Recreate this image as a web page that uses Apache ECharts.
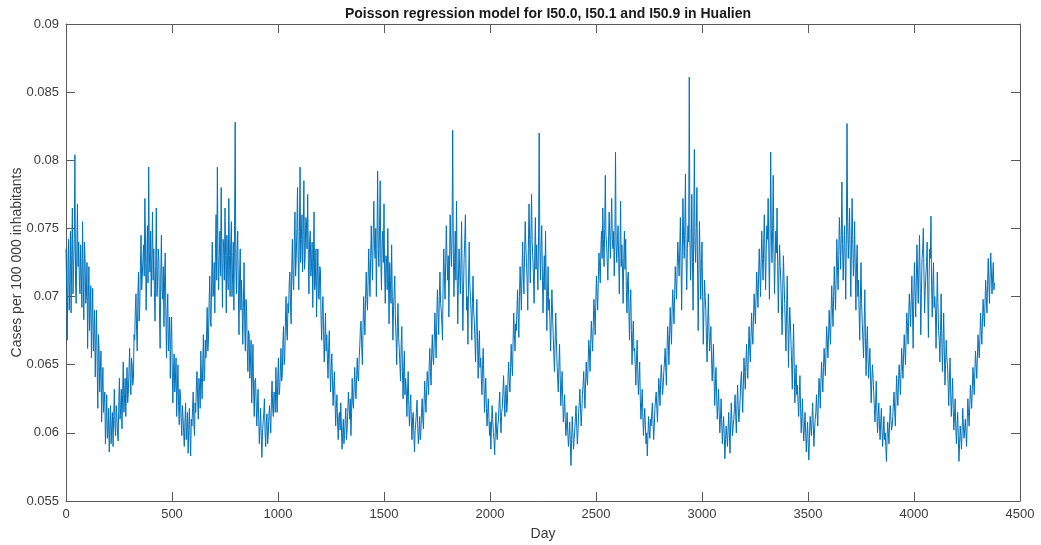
<!DOCTYPE html>
<html>
<head>
<meta charset="utf-8">
<title>Poisson regression model for I50.0, I50.1 and I50.9 in Hualien</title>
<script src="https://cdn.jsdelivr.net/npm/echarts@6/dist/echarts.min.js"></script>
<style>
  html, body { margin: 0; padding: 0; background: #fff; overflow: hidden; }
  #chart { width: 1041px; height: 545px; }
</style>
</head>
<body>
<div id="chart"></div>
<script>
// Modelled daily rate, sampled every DAY_STEP days starting at day 0 (one row = 60 days)
const DAY_STEP = 3;
const rate = [
  0.0735, 0.0705, 0.0668, 0.0725, 0.0742, 0.0690, 0.0712, 0.0748, 0.0688, 0.0730, 0.0765, 0.0702, 0.0722, 0.0742, 0.0804, 0.0710, 0.0695, 0.0735, 0.0768, 0.0722,
  0.0740, 0.0712, 0.0702, 0.0738, 0.0718, 0.0692, 0.0755, 0.0715, 0.0683, 0.0740, 0.0728, 0.0695, 0.0700, 0.0725, 0.0662, 0.0698, 0.0722, 0.0675, 0.0690, 0.0708,
  0.0655, 0.0685, 0.0706, 0.0660, 0.0672, 0.0690, 0.0641, 0.0668, 0.0690, 0.0650, 0.0618, 0.0672, 0.0662, 0.0630, 0.0645, 0.0660, 0.0608, 0.0632, 0.0648, 0.0615,
  0.0615, 0.0630, 0.0592, 0.0608, 0.0628, 0.0596, 0.0600, 0.0618, 0.0586, 0.0605, 0.0620, 0.0592, 0.0605, 0.0615, 0.0590, 0.0612, 0.0632, 0.0605, 0.0598, 0.0620,
  0.0612, 0.0600, 0.0594, 0.0622, 0.0640, 0.0610, 0.0618, 0.0632, 0.0603, 0.0628, 0.0652, 0.0615, 0.0625, 0.0640, 0.0612, 0.0635, 0.0648, 0.0622, 0.0630, 0.0645,
  0.0662, 0.0640, 0.0628, 0.0655, 0.0650, 0.0635, 0.0640, 0.0672, 0.0668, 0.0690, 0.0702, 0.0675, 0.0660, 0.0700, 0.0718, 0.0682, 0.0692, 0.0722, 0.0745, 0.0705,
  0.0705, 0.0728, 0.0738, 0.0715, 0.0772, 0.0740, 0.0690, 0.0725, 0.0752, 0.0710, 0.0795, 0.0732, 0.0718, 0.0748, 0.0700, 0.0730, 0.0762, 0.0712, 0.0735, 0.0705,
  0.0682, 0.0722, 0.0765, 0.0700, 0.0710, 0.0735, 0.0728, 0.0688, 0.0662, 0.0715, 0.0745, 0.0705, 0.0698, 0.0722, 0.0678, 0.0712, 0.0732, 0.0690, 0.0655, 0.0688,
  0.0702, 0.0660, 0.0668, 0.0685, 0.0640, 0.0670, 0.0685, 0.0650, 0.0622, 0.0645, 0.0658, 0.0630, 0.0638, 0.0655, 0.0612, 0.0632, 0.0650, 0.0620, 0.0606, 0.0632,
  0.0628, 0.0610, 0.0598, 0.0620, 0.0612, 0.0600, 0.0590, 0.0608, 0.0622, 0.0595, 0.0604, 0.0615, 0.0585, 0.0602, 0.0618, 0.0598, 0.0583, 0.0610, 0.0605, 0.0618,
  0.0630, 0.0608, 0.0598, 0.0622, 0.0615, 0.0635, 0.0645, 0.0625, 0.0610, 0.0640, 0.0632, 0.0618, 0.0660, 0.0640, 0.0625, 0.0650, 0.0672, 0.0638, 0.0642, 0.0668,
  0.0655, 0.0672, 0.0692, 0.0660, 0.0668, 0.0695, 0.0715, 0.0682, 0.0678, 0.0712, 0.0740, 0.0700, 0.0702, 0.0725, 0.0688, 0.0735, 0.0760, 0.0712, 0.0795, 0.0730,
  0.0705, 0.0730, 0.0748, 0.0715, 0.0780, 0.0728, 0.0692, 0.0742, 0.0735, 0.0712, 0.0765, 0.0730, 0.0688, 0.0745, 0.0722, 0.0705, 0.0772, 0.0730, 0.0700, 0.0738,
  0.0755, 0.0700, 0.0718, 0.0740, 0.0690, 0.0752, 0.0828, 0.0722, 0.0702, 0.0735, 0.0748, 0.0702, 0.0672, 0.0718, 0.0735, 0.0690, 0.0712, 0.0692, 0.0665, 0.0698,
  0.0725, 0.0680, 0.0660, 0.0698, 0.0690, 0.0662, 0.0645, 0.0675, 0.0672, 0.0640, 0.0652, 0.0668, 0.0622, 0.0645, 0.0665, 0.0630, 0.0612, 0.0638, 0.0640, 0.0622,
  0.0605, 0.0620, 0.0632, 0.0610, 0.0592, 0.0605, 0.0618, 0.0598, 0.0582, 0.0600, 0.0608, 0.0615, 0.0625, 0.0600, 0.0590, 0.0608, 0.0614, 0.0592, 0.0598, 0.0612,
  0.0620, 0.0608, 0.0600, 0.0625, 0.0638, 0.0618, 0.0612, 0.0630, 0.0628, 0.0615, 0.0648, 0.0628, 0.0615, 0.0640, 0.0655, 0.0628, 0.0632, 0.0645, 0.0662, 0.0638,
  0.0642, 0.0665, 0.0678, 0.0650, 0.0655, 0.0682, 0.0700, 0.0675, 0.0668, 0.0695, 0.0688, 0.0710, 0.0718, 0.0692, 0.0680, 0.0722, 0.0742, 0.0712, 0.0705, 0.0740,
  0.0762, 0.0715, 0.0728, 0.0750, 0.0780, 0.0732, 0.0705, 0.0748, 0.0795, 0.0725, 0.0742, 0.0760, 0.0718, 0.0745, 0.0785, 0.0720, 0.0728, 0.0758, 0.0755, 0.0735,
  0.0775, 0.0728, 0.0702, 0.0740, 0.0748, 0.0715, 0.0722, 0.0740, 0.0692, 0.0725, 0.0762, 0.0705, 0.0710, 0.0735, 0.0685, 0.0715, 0.0735, 0.0700, 0.0698, 0.0722,
  0.0720, 0.0685, 0.0668, 0.0690, 0.0700, 0.0675, 0.0652, 0.0670, 0.0688, 0.0660, 0.0672, 0.0655, 0.0640, 0.0662, 0.0675, 0.0650, 0.0630, 0.0648, 0.0658, 0.0638,
  0.0620, 0.0635, 0.0645, 0.0625, 0.0605, 0.0618, 0.0628, 0.0608, 0.0595, 0.0612, 0.0615, 0.0602, 0.0622, 0.0605, 0.0588, 0.0600, 0.0610, 0.0592, 0.0598, 0.0610,
  0.0618, 0.0595, 0.0602, 0.0615, 0.0630, 0.0620, 0.0610, 0.0625, 0.0598, 0.0615, 0.0640, 0.0622, 0.0618, 0.0635, 0.0648, 0.0630, 0.0625, 0.0642, 0.0655, 0.0640,
  0.0638, 0.0655, 0.0665, 0.0678, 0.0682, 0.0662, 0.0650, 0.0675, 0.0700, 0.0685, 0.0672, 0.0698, 0.0718, 0.0700, 0.0690, 0.0712, 0.0735, 0.0715, 0.0700, 0.0728,
  0.0752, 0.0730, 0.0712, 0.0745, 0.0770, 0.0738, 0.0728, 0.0750, 0.0700, 0.0742, 0.0792, 0.0735, 0.0722, 0.0752, 0.0785, 0.0728, 0.0705, 0.0740, 0.0748, 0.0725,
  0.0768, 0.0718, 0.0695, 0.0730, 0.0728, 0.0705, 0.0750, 0.0712, 0.0680, 0.0725, 0.0712, 0.0695, 0.0738, 0.0700, 0.0668, 0.0690, 0.0705, 0.0715, 0.0682, 0.0670,
  0.0650, 0.0678, 0.0695, 0.0670, 0.0662, 0.0650, 0.0638, 0.0665, 0.0678, 0.0645, 0.0625, 0.0648, 0.0660, 0.0628, 0.0640, 0.0632, 0.0612, 0.0630, 0.0645, 0.0620,
  0.0605, 0.0618, 0.0628, 0.0608, 0.0595, 0.0612, 0.0615, 0.0598, 0.0586, 0.0602, 0.0608, 0.0615, 0.0624, 0.0605, 0.0592, 0.0600, 0.0612, 0.0595, 0.0600, 0.0615,
  0.0625, 0.0610, 0.0603, 0.0622, 0.0638, 0.0625, 0.0615, 0.0632, 0.0645, 0.0638, 0.0628, 0.0648, 0.0662, 0.0645, 0.0635, 0.0658, 0.0672, 0.0655, 0.0650, 0.0668,
  0.0688, 0.0670, 0.0655, 0.0685, 0.0705, 0.0688, 0.0672, 0.0700, 0.0718, 0.0695, 0.0690, 0.0680, 0.0668, 0.0712, 0.0735, 0.0715, 0.0698, 0.0725, 0.0752, 0.0728,
  0.0712, 0.0730, 0.0685, 0.0722, 0.0760, 0.0738, 0.0722, 0.0745, 0.0822, 0.0735, 0.0700, 0.0725, 0.0748, 0.0712, 0.0770, 0.0718, 0.0680, 0.0712, 0.0735, 0.0720,
  0.0702, 0.0725, 0.0755, 0.0710, 0.0675, 0.0705, 0.0728, 0.0742, 0.0760, 0.0718, 0.0690, 0.0700, 0.0665, 0.0715, 0.0740, 0.0708, 0.0700, 0.0688, 0.0668, 0.0695,
  0.0715, 0.0690, 0.0682, 0.0668, 0.0652, 0.0678, 0.0698, 0.0670, 0.0640, 0.0662, 0.0675, 0.0648, 0.0655, 0.0640, 0.0628, 0.0650, 0.0662, 0.0640, 0.0615, 0.0628,
  0.0640, 0.0618, 0.0605, 0.0615, 0.0625, 0.0610, 0.0598, 0.0608, 0.0588, 0.0605, 0.0620, 0.0610, 0.0600, 0.0595, 0.0584, 0.0602, 0.0615, 0.0600, 0.0595, 0.0605,
  0.0610, 0.0622, 0.0630, 0.0612, 0.0600, 0.0615, 0.0618, 0.0630, 0.0642, 0.0625, 0.0612, 0.0628, 0.0635, 0.0615, 0.0622, 0.0640, 0.0652, 0.0638, 0.0630, 0.0648,
  0.0665, 0.0650, 0.0642, 0.0668, 0.0688, 0.0672, 0.0660, 0.0680, 0.0675, 0.0690, 0.0705, 0.0685, 0.0670, 0.0700, 0.0722, 0.0705, 0.0690, 0.0718, 0.0740, 0.0715,
  0.0702, 0.0730, 0.0755, 0.0738, 0.0725, 0.0712, 0.0690, 0.0735, 0.0768, 0.0742, 0.0710, 0.0745, 0.0775, 0.0740, 0.0728, 0.0715, 0.0695, 0.0732, 0.0758, 0.0720,
  0.0738, 0.0722, 0.0705, 0.0745, 0.0820, 0.0740, 0.0712, 0.0735, 0.0752, 0.0718, 0.0688, 0.0712, 0.0730, 0.0705, 0.0748, 0.0710, 0.0675, 0.0700, 0.0722, 0.0690,
  0.0698, 0.0680, 0.0660, 0.0685, 0.0705, 0.0688, 0.0672, 0.0658, 0.0645, 0.0665, 0.0688, 0.0670, 0.0652, 0.0640, 0.0630, 0.0648, 0.0665, 0.0642, 0.0620, 0.0632,
  0.0645, 0.0625, 0.0608, 0.0615, 0.0628, 0.0610, 0.0598, 0.0605, 0.0615, 0.0600, 0.0590, 0.0598, 0.0608, 0.0592, 0.0576, 0.0595, 0.0612, 0.0600, 0.0588, 0.0596,
  0.0602, 0.0612, 0.0620, 0.0605, 0.0592, 0.0600, 0.0615, 0.0622, 0.0632, 0.0618, 0.0605, 0.0615, 0.0628, 0.0635, 0.0645, 0.0630, 0.0618, 0.0638, 0.0652, 0.0640,
  0.0635, 0.0652, 0.0668, 0.0660, 0.0645, 0.0665, 0.0682, 0.0670, 0.0660, 0.0678, 0.0698, 0.0688, 0.0672, 0.0695, 0.0715, 0.0700, 0.0690, 0.0712, 0.0732, 0.0722,
  0.0710, 0.0735, 0.0748, 0.0728, 0.0765, 0.0742, 0.0722, 0.0750, 0.0789, 0.0745, 0.0738, 0.0725, 0.0712, 0.0740, 0.0762, 0.0745, 0.0728, 0.0750, 0.0772, 0.0742,
  0.0735, 0.0748, 0.0715, 0.0740, 0.0806, 0.0738, 0.0725, 0.0742, 0.0752, 0.0728, 0.0702, 0.0735, 0.0770, 0.0722, 0.0738, 0.0718, 0.0695, 0.0728, 0.0748, 0.0720,
  0.0742, 0.0705, 0.0688, 0.0712, 0.0718, 0.0690, 0.0668, 0.0695, 0.0705, 0.0675, 0.0650, 0.0670, 0.0682, 0.0660, 0.0662, 0.0650, 0.0635, 0.0655, 0.0668, 0.0645,
  0.0628, 0.0640, 0.0652, 0.0625, 0.0610, 0.0622, 0.0632, 0.0612, 0.0598, 0.0610, 0.0618, 0.0605, 0.0592, 0.0600, 0.0583, 0.0598, 0.0612, 0.0602, 0.0596, 0.0610,
  0.0605, 0.0615, 0.0622, 0.0608, 0.0595, 0.0605, 0.0618, 0.0625, 0.0630, 0.0618, 0.0608, 0.0625, 0.0640, 0.0632, 0.0620, 0.0638, 0.0650, 0.0640, 0.0628, 0.0635,
  0.0645, 0.0652, 0.0662, 0.0648, 0.0635, 0.0660, 0.0678, 0.0668, 0.0650, 0.0672, 0.0692, 0.0678, 0.0665, 0.0690, 0.0705, 0.0692, 0.0680, 0.0702, 0.0722, 0.0710,
  0.0698, 0.0722, 0.0740, 0.0728, 0.0715, 0.0735, 0.0758, 0.0725, 0.0690, 0.0730, 0.0772, 0.0745, 0.0728, 0.0752, 0.0790, 0.0728, 0.0705, 0.0735, 0.0752, 0.0740,
  0.0861, 0.0742, 0.0712, 0.0735, 0.0775, 0.0725, 0.0690, 0.0748, 0.0808, 0.0738, 0.0725, 0.0750, 0.0780, 0.0718, 0.0675, 0.0715, 0.0755, 0.0728, 0.0698, 0.0722,
  0.0740, 0.0700, 0.0665, 0.0690, 0.0712, 0.0700, 0.0690, 0.0668, 0.0652, 0.0680, 0.0702, 0.0675, 0.0660, 0.0670, 0.0678, 0.0655, 0.0638, 0.0652, 0.0665, 0.0640,
  0.0620, 0.0635, 0.0648, 0.0628, 0.0610, 0.0620, 0.0632, 0.0615, 0.0600, 0.0610, 0.0625, 0.0608, 0.0592, 0.0603, 0.0612, 0.0598, 0.0581, 0.0595, 0.0605, 0.0598,
  0.0590, 0.0602, 0.0615, 0.0600, 0.0585, 0.0605, 0.0622, 0.0610, 0.0598, 0.0605, 0.0610, 0.0618, 0.0628, 0.0612, 0.0600, 0.0620, 0.0635, 0.0618, 0.0608, 0.0615,
  0.0625, 0.0638, 0.0645, 0.0630, 0.0615, 0.0635, 0.0655, 0.0645, 0.0632, 0.0650, 0.0665, 0.0648, 0.0640, 0.0660, 0.0678, 0.0662, 0.0652, 0.0670, 0.0688, 0.0672,
  0.0665, 0.0685, 0.0702, 0.0690, 0.0680, 0.0700, 0.0718, 0.0705, 0.0692, 0.0715, 0.0735, 0.0718, 0.0700, 0.0725, 0.0748, 0.0728, 0.0712, 0.0738, 0.0760, 0.0730,
  0.0705, 0.0735, 0.0752, 0.0742, 0.0772, 0.0735, 0.0698, 0.0740, 0.0806, 0.0750, 0.0725, 0.0748, 0.0789, 0.0738, 0.0702, 0.0725, 0.0748, 0.0732, 0.0765, 0.0722,
  0.0688, 0.0718, 0.0738, 0.0722, 0.0710, 0.0690, 0.0672, 0.0705, 0.0730, 0.0712, 0.0695, 0.0678, 0.0660, 0.0690, 0.0715, 0.0682, 0.0648, 0.0675, 0.0692, 0.0680,
  0.0665, 0.0650, 0.0632, 0.0660, 0.0680, 0.0648, 0.0622, 0.0640, 0.0650, 0.0628, 0.0635, 0.0622, 0.0612, 0.0628, 0.0642, 0.0618, 0.0600, 0.0612, 0.0625, 0.0605,
  0.0594, 0.0605, 0.0615, 0.0600, 0.0586, 0.0598, 0.0608, 0.0592, 0.0580, 0.0596, 0.0612, 0.0605, 0.0598, 0.0610, 0.0622, 0.0605, 0.0590, 0.0602, 0.0610, 0.0615,
  0.0628, 0.0615, 0.0605, 0.0625, 0.0640, 0.0632, 0.0618, 0.0638, 0.0652, 0.0640, 0.0630, 0.0648, 0.0662, 0.0652, 0.0642, 0.0660, 0.0678, 0.0668, 0.0655, 0.0672,
  0.0690, 0.0675, 0.0665, 0.0688, 0.0708, 0.0692, 0.0678, 0.0700, 0.0722, 0.0705, 0.0690, 0.0715, 0.0742, 0.0722, 0.0705, 0.0730, 0.0758, 0.0740, 0.0720, 0.0745,
  0.0784, 0.0738, 0.0712, 0.0732, 0.0752, 0.0728, 0.0698, 0.0745, 0.0827, 0.0755, 0.0728, 0.0742, 0.0765, 0.0730, 0.0700, 0.0738, 0.0772, 0.0742, 0.0715, 0.0728,
  0.0755, 0.0718, 0.0690, 0.0725, 0.0738, 0.0700, 0.0712, 0.0690, 0.0668, 0.0698, 0.0725, 0.0695, 0.0680, 0.0668, 0.0655, 0.0680, 0.0705, 0.0670, 0.0642, 0.0665,
  0.0678, 0.0655, 0.0640, 0.0652, 0.0662, 0.0640, 0.0622, 0.0638, 0.0650, 0.0640, 0.0630, 0.0618, 0.0608, 0.0622, 0.0638, 0.0615, 0.0600, 0.0612, 0.0622, 0.0605,
  0.0595, 0.0608, 0.0618, 0.0602, 0.0590, 0.0600, 0.0612, 0.0595, 0.0600, 0.0590, 0.0579, 0.0596, 0.0608, 0.0600, 0.0592, 0.0608, 0.0620, 0.0610, 0.0602, 0.0605,
  0.0612, 0.0622, 0.0630, 0.0615, 0.0605, 0.0625, 0.0642, 0.0628, 0.0620, 0.0638, 0.0650, 0.0640, 0.0628, 0.0645, 0.0662, 0.0650, 0.0640, 0.0658, 0.0672, 0.0660,
  0.0650, 0.0672, 0.0688, 0.0678, 0.0665, 0.0685, 0.0702, 0.0690, 0.0678, 0.0698, 0.0715, 0.0690, 0.0662, 0.0700, 0.0725, 0.0705, 0.0685, 0.0712, 0.0738, 0.0715,
  0.0695, 0.0720, 0.0745, 0.0710, 0.0672, 0.0702, 0.0728, 0.0735, 0.0750, 0.0718, 0.0688, 0.0705, 0.0715, 0.0725, 0.0740, 0.0702, 0.0670, 0.0712, 0.0735, 0.0728,
  0.0759, 0.0708, 0.0685, 0.0710, 0.0725, 0.0692, 0.0700, 0.0688, 0.0662, 0.0690, 0.0718, 0.0695, 0.0675, 0.0668, 0.0652, 0.0675, 0.0702, 0.0670, 0.0645, 0.0665,
  0.0688, 0.0660, 0.0635, 0.0650, 0.0668, 0.0655, 0.0650, 0.0635, 0.0620, 0.0640, 0.0655, 0.0630, 0.0612, 0.0625, 0.0640, 0.0618, 0.0602, 0.0612, 0.0625, 0.0605,
  0.0592, 0.0605, 0.0615, 0.0598, 0.0579, 0.0592, 0.0605, 0.0598, 0.0588, 0.0602, 0.0618, 0.0605, 0.0596, 0.0602, 0.0610, 0.0600, 0.0590, 0.0608, 0.0625, 0.0615,
  0.0605, 0.0620, 0.0635, 0.0628, 0.0618, 0.0632, 0.0648, 0.0640, 0.0628, 0.0645, 0.0660, 0.0650, 0.0640, 0.0655, 0.0672, 0.0662, 0.0655, 0.0670, 0.0688, 0.0675,
  0.0665, 0.0682, 0.0698, 0.0688, 0.0678, 0.0695, 0.0712, 0.0700, 0.0688, 0.0708, 0.0728, 0.0712, 0.0695, 0.0715, 0.0732, 0.0718, 0.0702, 0.0715, 0.0725, 0.0705,
  0.0710
];

// Axis ranges and tick spacing
const xRange = [0, 4500];
const xStep = 500;
const yRange = [0.055, 0.09];
const yStep = 0.005;

const titleText = 'Poisson regression model for I50.0, I50.1 and I50.9 in Hualien';
const xName = 'Day';
const yName = 'Cases per 100 000 inhabitants';

const points = rate.map((v, i) => [i * DAY_STEP, v]);

const FONT = '"Liberation Sans", Arial, Helvetica, sans-serif';
const AXIS_COLOR = '#5a5a5a';
const TEXT_COLOR = '#3c3c3c';

const boxAxis = {
  axisLine: { show: true, onZero: false, lineStyle: { color: AXIS_COLOR, width: 1 } },
  axisTick: { show: true, inside: true, length: 9, lineStyle: { color: AXIS_COLOR, width: 1 } },
  splitLine: { show: false }
};

const chart = echarts.init(document.getElementById('chart'), null, { renderer: 'canvas' });
chart.setOption({
  animation: false,
  backgroundColor: '#ffffff',
  title: {
    text: titleText,
    left: 543,
    textAlign: 'center',
    top: 2,
    textStyle: { fontFamily: FONT, fontSize: 14, fontWeight: 'bold', color: '#1a1a1a' }
  },
  grid: { left: 66, right: 21, top: 24, bottom: 44, containLabel: false, outerBoundsMode: 'none' },
  xAxis: [
    Object.assign({
      type: 'value', position: 'bottom', min: xRange[0], max: xRange[1], interval: xStep,
      name: xName, nameLocation: 'middle', nameGap: 26, nameMoveOverlap: false,
      nameTextStyle: { fontFamily: FONT, fontSize: 14, color: TEXT_COLOR },
      axisLabel: { fontFamily: FONT, fontSize: 13, color: TEXT_COLOR, margin: 7,
                   formatter: v => String(v) }
    }, boxAxis),
    Object.assign({
      type: 'value', position: 'top', min: xRange[0], max: xRange[1], interval: xStep,
      axisLabel: { show: false }
    }, boxAxis)
  ],
  yAxis: [
    Object.assign({
      type: 'value', position: 'left', min: yRange[0], max: yRange[1], interval: yStep,
      name: yName, nameLocation: 'middle', nameGap: 42, nameMoveOverlap: false,
      nameTextStyle: { fontFamily: FONT, fontSize: 14, color: TEXT_COLOR },
      axisLabel: { fontFamily: FONT, fontSize: 13, color: TEXT_COLOR, margin: 7 }
    }, boxAxis),
    Object.assign({
      type: 'value', position: 'right', min: yRange[0], max: yRange[1], interval: yStep,
      axisLabel: { show: false }
    }, boxAxis)
  ],
  series: [{
    type: 'line',
    xAxisIndex: 0,
    yAxisIndex: 0,
    data: points,
    showSymbol: false,
    symbol: 'none',
    smooth: false,
    sampling: null,
    lineStyle: { color: '#0072BD', width: 1 }
  }]
});
</script>
</body>
</html>
